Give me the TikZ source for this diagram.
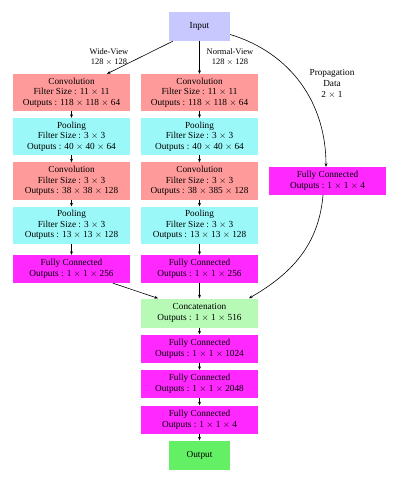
\documentclass[tikz,border=0pt]{standalone}
\usepackage{fontspec}
\setmainfont{Liberation Serif}
\usetikzlibrary{arrows.meta}
\definecolor{cinput}{RGB}{200,200,255}
\definecolor{cconv}{RGB}{255,154,154}
\definecolor{cpool}{RGB}{154,248,248}
\definecolor{cfc}{RGB}{255,40,255}
\definecolor{ccat}{RGB}{182,250,182}
\definecolor{cout}{RGB}{100,240,100}
\tikzset{
  box/.style={draw=none, align=center, inner sep=0pt, minimum width=117bp, font=\fontsize{9.3}{10.6}\selectfont},
  conv/.style={box, fill=cconv, minimum height=37bp},
  pool/.style={box, fill=cpool, minimum height=37bp},
  fc/.style={box, fill=cfc, minimum height=28bp},
  cat/.style={box, fill=ccat, minimum height=29bp},
  term/.style={box, minimum width=61bp, minimum height=29bp},
  lab/.style={align=center, inner sep=0pt, font=\fontsize{8.5}{10.5}\selectfont},
  arr/.style={-{Stealth[length=3.5pt,width=3pt]}, line width=0.6pt},
}
\begin{document}
\begin{tikzpicture}[x=1bp,y=-1bp]
\useasboundingbox (0,0) rectangle (407,482);
\node[term, fill=cinput] (in) at (199.5,26.5) {Input};
% column 1
\node[conv] (c1) at (71.5,92.5) {Convolution\\Filter Size : 11 $\times$ 11\\Outputs : 118 $\times$ 118 $\times$ 64};
\node[pool] (p1) at (71.5,136.5) {Pooling\\Filter Size : 3 $\times$ 3\\Outputs : 40 $\times$ 40 $\times$ 64};
\node[conv] (c3) at (71.5,181) {Convolution\\Filter Size : 3 $\times$ 3\\Outputs : 38 $\times$ 38 $\times$ 128};
\node[pool] (p3) at (71.5,225) {Pooling\\Filter Size : 3 $\times$ 3\\Outputs : 13 $\times$ 13 $\times$ 128};
\node[fc] (f1) at (71.5,269) {Fully Connected\\Outputs : 1 $\times$ 1 $\times$ 256};
% column 2
\node[conv] (c2) at (199.5,92.5) {Convolution\\Filter Size : 11 $\times$ 11\\Outputs : 118 $\times$ 118 $\times$ 64};
\node[pool] (p2) at (199.5,136.5) {Pooling\\Filter Size : 3 $\times$ 3\\Outputs : 40 $\times$ 40 $\times$ 64};
\node[conv] (c4) at (199.5,181) {Convolution\\Filter Size : 3 $\times$ 3\\Outputs : 38 $\times$ 385 $\times$ 128};
\node[pool] (p4) at (199.5,225) {Pooling\\Filter Size : 3 $\times$ 3\\Outputs : 13 $\times$ 13 $\times$ 128};
\node[fc] (f2) at (199.5,269) {Fully Connected\\Outputs : 1 $\times$ 1 $\times$ 256};
% right
\node[fc] (fr) at (327.5,181) {Fully Connected\\Outputs : 1 $\times$ 1 $\times$ 4};
% bottom
\node[cat] (cat) at (199.5,313) {Concatenation\\Outputs : 1 $\times$ 1 $\times$ 516};
\node[fc] (g1) at (199.5,348.5) {Fully Connected\\Outputs : 1 $\times$ 1 $\times$ 1024};
\node[fc] (g2) at (199.5,384) {Fully Connected\\Outputs : 1 $\times$ 1 $\times$ 2048};
\node[fc] (g3) at (199.5,419.5) {Fully Connected\\Outputs : 1 $\times$ 1 $\times$ 4};
\node[term, fill=cout] (out) at (199.5,455) {Output};
% labels
\node[lab] (lw) at (109,57) {Wide-View\\128 $\times$ 128};
\node[lab] (ln) at (230,57) {Normal-View\\128 $\times$ 128};
\node[lab, font=\fontsize{9.3}{10.7}\selectfont] (lp) at (332,84) {Propagation\\Data\\2 $\times$ 1};
% arrows
\draw[arr] (in.south west) ++(4,0) coordinate (a1) -- (c1.north -| 107,0);
\draw[arr] (in.south) -- (c2.north);
\draw[arr] (in.east) ++(0,8) coordinate (a2) to[out=-17,in=90] (fr.north -| 326,0);
\draw[arr] (c1) -- (p1);
\draw[arr] (p1) -- (c3);
\draw[arr] (c3) -- (p3);
\draw[arr] (p3) -- (f1);
\draw[arr] (c2) -- (p2);
\draw[arr] (p2) -- (c4);
\draw[arr] (c4) -- (p4);
\draw[arr] (p4) -- (f2);
\draw[arr] (f1.south -| 113,0) -- (cat.north -| 158,0);
\draw[arr] (f2) -- (cat);
\draw[arr] (fr.south -| 323,0) to[out=-95,in=30] (cat.north -| 249,0);
\draw[arr] (cat) -- (g1);
\draw[arr] (g1) -- (g2);
\draw[arr] (g2) -- (g3);
\draw[arr] (g3) -- (out);
\end{tikzpicture}
\end{document}
